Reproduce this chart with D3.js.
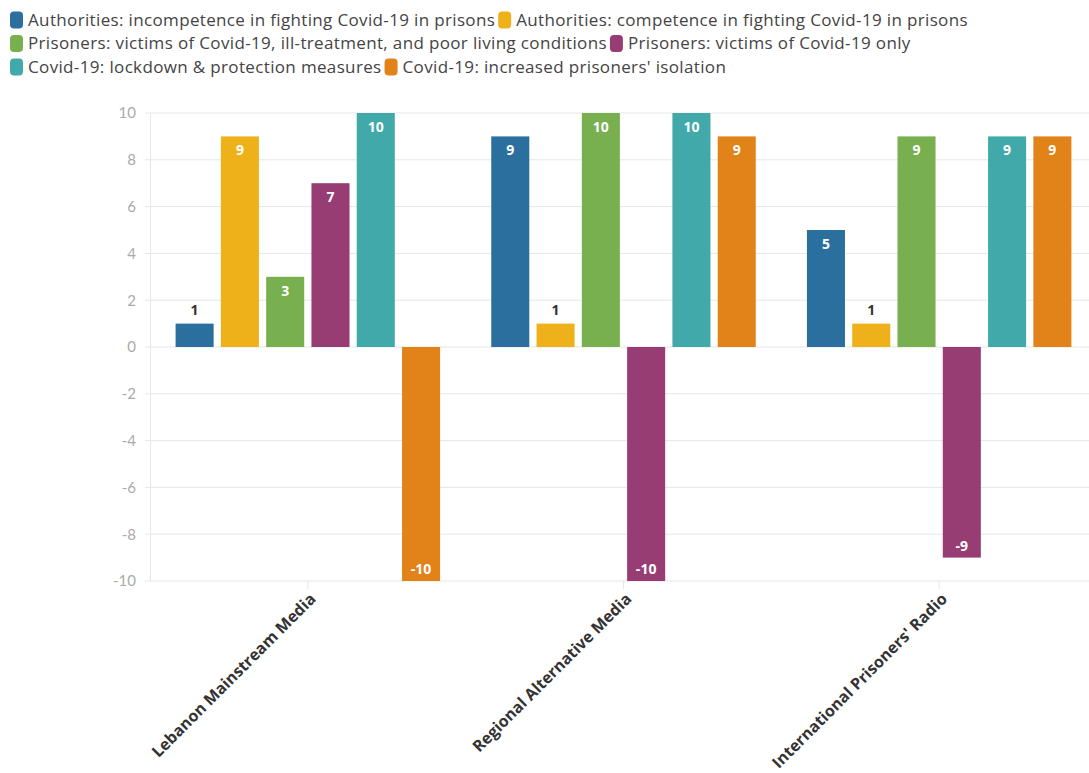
<!DOCTYPE html>
<html>
<head>
<meta charset="utf-8">
<script src="https://cdn.jsdelivr.net/npm/d3@7"></script>
<style>
  html, body { margin: 0; padding: 0; background: #fff; }
  svg { display: block; font-family: "Open Sans", Lato, sans-serif; }
</style>
</head>
<body>
<svg id="chart" width="1089" height="773"></svg>
<script>
// Outlets compared on the x axis
const outlets = ["Lebanon Mainstream Media", "Regional Alternative Media", "International Prisoners' Radio"];

// Framing themes (one bar per theme inside each outlet group)
const themes = [
  "Authorities: incompetence in fighting Covid-19 in prisons",
  "Authorities: competence in fighting Covid-19 in prisons",
  "Prisoners: victims of Covid-19, ill-treatment, and poor living conditions",
  "Prisoners: victims of Covid-19 only",
  "Covid-19: lockdown & protection measures",
  "Covid-19: increased prisoners' isolation"
];

const themeColors = ["#2a6f9e", "#efb11a", "#78b04f", "#983c74", "#41a9aa", "#e2831a"];

// Scores per theme, in outlet order
const incompetence  = [1, 9, 5];
const competence    = [9, 1, 1];
const illTreatment  = [3, 10, 9];
const victimsOnly   = [7, -10, -9];
const lockdown      = [10, 10, 9];
const isolation     = [-10, 9, 9];

const seriesValues = [incompetence, competence, illTreatment, victimsOnly, lockdown, isolation];

const yTicks = [-10, -8, -6, -4, -2, 0, 2, 4, 6, 8, 10];

const svg = d3.select("#chart");
const W = 1089, H = 773;
const plot = { left: 150, right: 1097, top: 113, bottom: 581 };

// ---- Legend (wrapping rows) ----
const legend = svg.append("g").attr("class", "legend");
const legendMaxX = 1080;
let lx = 10, ly = 20;
const rowH = 23.5;
themes.forEach((name, i) => {
  const item = legend.append("g");
  const txt = item.append("text")
    .attr("x", 18)
    .attr("y", 0)
    .attr("dy", "0.35em")
    .attr("fill", "#444")
    .style("font-size", "17px")
    .style("letter-spacing", "0.35px")
    .text(name);
  const w = 18 + txt.node().getComputedTextLength();
  if (lx + w > legendMaxX && lx > 10) { lx = 10; ly += rowH; }
  item.attr("transform", `translate(${lx},${ly})`);
  item.insert("rect", "text")
    .attr("x", 0).attr("y", -8.5)
    .attr("width", 13).attr("height", 17)
    .attr("rx", 4).attr("ry", 4)
    .attr("fill", themeColors[i]);
  lx += w + 3;
});

// ---- Scales ----
const x0 = d3.scaleBand().domain(outlets).range([plot.left, plot.right]).padding(0);
const x1 = d3.scaleBand().domain(d3.range(themes.length))
  .range([0, x0.bandwidth()]).paddingInner(0.16).paddingOuter(0.565);
const y = d3.scaleLinear().domain([-10, 10]).range([plot.bottom, plot.top]);

// ---- Grid and y axis ----
const yAxis = svg.append("g")
  .attr("transform", `translate(${plot.left},0)`)
  .call(d3.axisLeft(y).tickValues(yTicks).tickSize(0).tickPadding(14).tickFormat(d3.format("d")));
yAxis.select(".domain").attr("stroke", "#e6e6e6");
yAxis.selectAll(".tick text")
  .attr("fill", "#aaa")
  .style("font-size", "15px")
  .style("font-family", "Lato, sans-serif")
  .text(d => d < 0 ? "-" + Math.abs(d) : d);

svg.append("g").selectAll("line")
  .data(yTicks)
  .join("line")
  .attr("x1", plot.left - 5).attr("x2", W)
  .attr("y1", d => y(d)).attr("y2", d => y(d))
  .attr("stroke", "#e6e6e6")
  .attr("stroke-width", 1);

// ---- x axis ----
const xAxis = svg.append("g")
  .attr("transform", `translate(0,${plot.bottom})`)
  .call(d3.axisBottom(x0).tickSize(8).tickPadding(6));
xAxis.select(".domain").remove();
xAxis.selectAll(".tick line").attr("stroke", "#e6e6e6");
xAxis.selectAll(".tick text")
  .attr("fill", "#333")
  .style("font-size", "16px")
  .style("font-weight", "bold")
  .style("font-family", "\"Open Sans\", sans-serif")
  .attr("text-anchor", "end")
  .attr("dy", "0.35em")
  .attr("transform", "translate(5,15) rotate(-45)")
  .attr("x", 0).attr("y", 0);

// ---- Bars ----
const barData = [];
outlets.forEach((o, oi) => {
  seriesValues.forEach((vals, si) => {
    barData.push({ outlet: o, s: si, v: vals[oi] });
  });
});

const bars = svg.append("g").selectAll("g")
  .data(barData)
  .join("g")
  .attr("transform", d => `translate(${x0(d.outlet) + x1(d.s)},0)`);

bars.append("rect")
  .attr("x", 0)
  .attr("width", x1.bandwidth())
  .attr("y", d => Math.min(y(d.v), y(0)))
  .attr("height", d => Math.abs(y(d.v) - y(0)))
  .attr("fill", d => themeColors[d.s]);

// Value labels: inside the bar end when there is room, above it otherwise
bars.append("text")
  .attr("x", x1.bandwidth() / 2)
  .attr("text-anchor", "middle")
  .style("font-size", "14px")
  .style("font-weight", "bold")
  .attr("dy", "0.35em")
  .each(function(d) {
    const len = Math.abs(y(d.v) - y(0));
    const t = d3.select(this);
    if (len < 30) {
      t.attr("y", d.v >= 0 ? y(d.v) - 14 : y(d.v) + 14).attr("fill", "#333");
    } else {
      t.attr("y", d.v >= 0 ? y(d.v) + 14 : y(d.v) - 12).attr("fill", "#fff");
    }
  })
  .text(d => d.v);
</script>
</body>
</html>
